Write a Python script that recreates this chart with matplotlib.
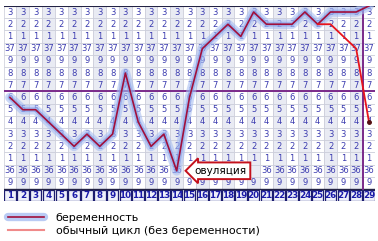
import numpy as np
import matplotlib
matplotlib.use("Agg")
import matplotlib.pyplot as plt
from matplotlib.patches import Rectangle
from matplotlib.lines import Line2D

# basal temperature, degrees C
days = list(range(1, 30))
pregnant = [36.6, 36.5, 36.5, 36.4, 36.3, 36.2, 36.3, 36.2, 36.3, 36.8,
            36.4, 36.2, 36.3, 36.0, 36.6, 37.0, 37.1, 37.2, 37.1, 37.3,
            37.2, 37.2, 37.2, 37.3, 37.2, 37.3, 37.3, 37.3, 37.35]
normal_days = [25, 26, 27, 28, 29]
normal = [37.2, 37.2, 37.1, 37.0, 36.4]
rows = [37.3, 37.2, 37.1, 37.0, 36.9, 36.8, 36.7, 36.6, 36.5, 36.4,
        36.3, 36.2, 36.1, 36.0, 35.9]
coverline = 36.65
cycle_end = 28.5
ovulation_day = 14
ovulation_label = "овуляция"
hidden_days = [15, 16, 17, 18, 19, 20]   # cells covered by the label
legend_labels = ["беременность", "обычный цикл (без беременности)"]

fig = plt.figure(figsize=(3.78, 2.41), dpi=100)
ax = fig.add_axes([0.0095, 0.1647, 0.9836, 0.8108])
ax.set_xlim(0.5, 29.5)
ax.set_ylim(35.75, 37.35)
ax.axis("off")

# grid cells with the temperature digits
for i, d in enumerate(days):
    for t in rows:
        fc = "#e9ebf3" if i % 2 else "white"
        ax.add_patch(Rectangle((d - 0.5, t - 0.05), 1, 0.1, fc=fc,
                               ec="#c9cbd8", lw=0.5, zorder=0))
        if abs(t - 36.0) < 1e-6 and d in hidden_days:
            continue
        lab = f"{t:.1f}"
        lab = lab[:2] if lab.endswith(".0") else lab[-1]
        ax.text(d, t, lab, ha="center", va="center", fontsize=6,
                color="#3c3cb0", zorder=1)
    # day number row
    ax.add_patch(Rectangle((d - 0.45, 35.755), 0.9, 0.09, fc="#eef0fa",
                           ec="#1c1c70", lw=0.9, zorder=1))
    ax.text(d, 35.8, str(d), ha="center", va="center", fontsize=6.3,
            fontweight="bold", color="#1a1aa8", zorder=2)

ax.plot([0.5, 29.5], [37.35, 37.35], color="#222244", lw=1.5, zorder=2)
ax.plot([0.5, 29.5], [35.85, 35.85], color="#222244", lw=1.0, zorder=2)

# coverline and end of cycle
ax.axhline(coverline, color="#7a2a8a", lw=1.4, zorder=3)
ax.plot([cycle_end, cycle_end], [35.85, 37.35], color="#7a2a8a", lw=1.4, zorder=3)

# pregnancy curve with glow
ax.plot(days, pregnant, color="#a9bff2", lw=7, alpha=0.6,
        solid_capstyle="round", solid_joinstyle="round", zorder=4)
ax.plot(days, pregnant, color="#7f9ae8", lw=3.5, alpha=0.55,
        solid_capstyle="round", solid_joinstyle="round", zorder=4)
ax.plot(days, pregnant, color="#a0103c", lw=1.2, zorder=5)

# normal cycle
ax.plot(normal_days, normal, color="#e8141c", lw=1.3, zorder=6)
ax.plot(normal_days[-1], normal[-1], "o", color="#551010", ms=2.5, zorder=7)

# ovulation marker
ax.text(ovulation_day + 3.45, pregnant[ovulation_day - 1], ovulation_label,
        ha="center", va="center", fontsize=7.5, color="black", zorder=8,
        bbox=dict(boxstyle="larrow,pad=0.32", fc="white", ec="#c4101c", lw=1.4))

# legend
h1 = (Line2D([], [], color="#a9bff2", lw=6, alpha=0.8, solid_capstyle="round"),
      Line2D([], [], color="#a0103c", lw=1.2))
h2 = Line2D([], [], color="#f08a8a", lw=1.5)
fig.legend([h1, h2], legend_labels, loc="lower left",
           bbox_to_anchor=(0.0, -0.01), frameon=False, fontsize=8,
           handlelength=3.3, handletextpad=1.0, labelspacing=0.25,
           borderaxespad=0.3)

fig.savefig("out.png", dpi=100)
